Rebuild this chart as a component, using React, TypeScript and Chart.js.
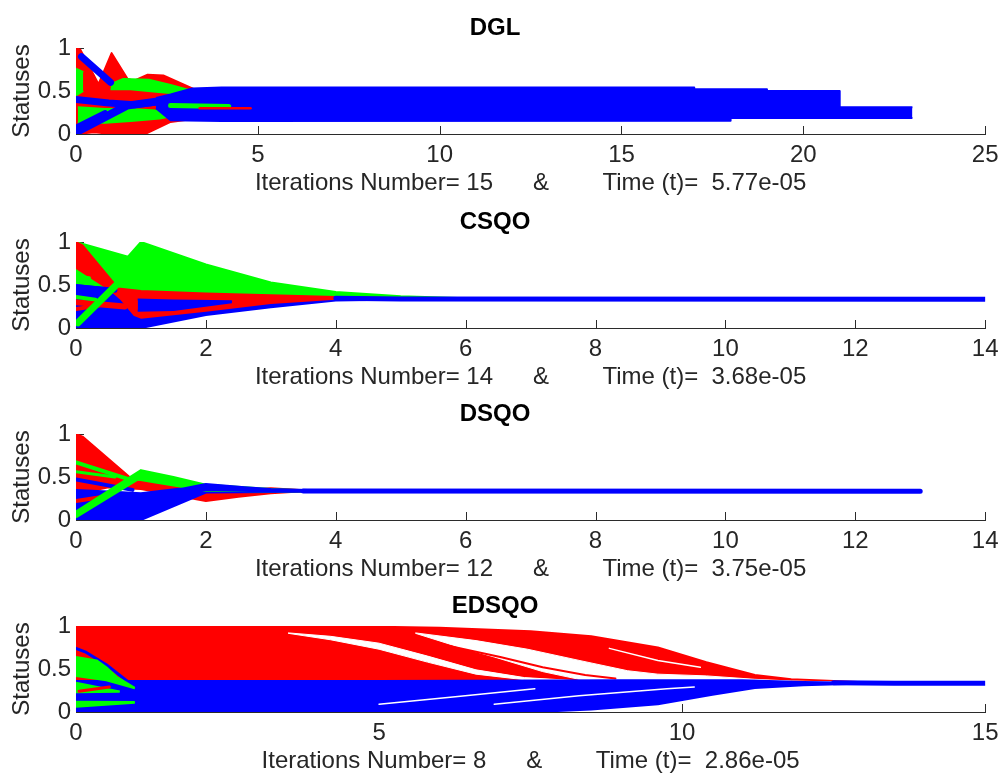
import React, { useEffect, useRef } from "react";
import { Chart, registerables } from "chart.js";
Chart.register(...registerables);

type Pt = [number, number];

// ---------------- DGL (x: 0..25) ----------------
const dglXTicks = { max: 25, step: 5 };
const dglRedTop: Pt[] = [[0, 1.0], [0.12, 0.98], [0.62, 0.58], [0.98, 0.94], [1.42, 0.64], [1.6, 0.62], [1.97, 0.69], [2.4, 0.68], [3.2, 0.53], [3.6, 0.45]];
const dglRedBottom: Pt[] = [[0, 0], [0.5, 0.02], [1, 0], [1.9, 0], [2.6, 0.14], [3.3, 0.18], [3.6, 0.2]];
const dglGreenEdgeTop: Pt[] = [[0, 0.76], [0.2, 0.72]];
const dglGreenEdgeBottom: Pt[] = [[0, 0.45], [0.2, 0.5]];
const dglGreenLowTop: Pt[] = [[0.05, 0.31], [0.8, 0.29], [1.5, 0.29], [2.3, 0.27], [3.0, 0.29]];
const dglGreenLowBottom: Pt[] = [[0.05, 0.13], [0.8, 0.13], [1.5, 0.15], [2.3, 0.18], [3.0, 0.24]];
const dglGreenHighTop: Pt[] = [[0.95, 0.58], [1.3, 0.64], [2.0, 0.63], [2.6, 0.57], [3.3, 0.49]];
const dglGreenHighBottom: Pt[] = [[0.95, 0.52], [1.5, 0.52], [2.2, 0.49], [3.3, 0.45]];
const dglBlueRise: Pt[] = [[0, 0.02], [1.4, 0.33], [2.6, 0.4]];
const dglBlueMid: Pt[] = [[0, 0.4], [0.9, 0.36], [1.6, 0.34], [2.4, 0.38]];
const dglBlueLow: Pt[] = [[0, 0.08], [0.8, 0.25]];
const dglBlueDiag: Pt[] = [[0.15, 0.9], [0.95, 0.6]];
const dglBlueTop: Pt[] = [[2.2, 0.42], [2.6, 0.46], [3.2, 0.53], [4, 0.54], [17, 0.54], [17, 0.52], [19, 0.52], [19, 0.5], [21, 0.5], [21, 0.31], [23, 0.31]];
const dglBlueBottom: Pt[] = [[2.2, 0.3], [2.6, 0.16], [4, 0.15], [18, 0.155], [18, 0.185], [23, 0.185]];
const dglGreenStreak: Pt[] = [[2.6, 0.33], [4.2, 0.32]];
const dglRedStreak: Pt[] = [[3.4, 0.3], [4.8, 0.3]];

// ---------------- CSQO (x: 0..14) ----------------
const csqoXTicks = { max: 14, step: 2 };
const csqoGreenTop: Pt[] = [[0, 1.0], [0.8, 0.83], [1, 1.0], [2, 0.74], [3, 0.53], [4, 0.42], [5, 0.37], [6, 0.345]];
const csqoGreenBottom: Pt[] = [[0, 0.05], [1, 0.38], [2, 0.38], [4, 0.36], [6, 0.335]];
const csqoBlueTop: Pt[] = [[0, 0.5], [0.6, 0.45], [1, 0.42], [2, 0.39], [3, 0.37], [4, 0.355], [5, 0.342], [6, 0.337]];
const csqoBlueBottom: Pt[] = [[0, 0], [1, 0], [2, 0.15], [3, 0.24], [4, 0.32], [5, 0.332], [6, 0.334]];
const csqoRedTop: Pt[] = [[0, 1.0], [0.1, 0.96], [0.65, 0.46], [1, 0.43], [2, 0.4], [3, 0.38], [4, 0.36], [5, 0.345]];
const csqoRedBottom: Pt[] = [[0, 0.7], [0.55, 0.43], [0.7, 0.33], [0.9, 0.15], [1, 0.12], [2, 0.2], [3, 0.29], [4, 0.34], [5, 0.34]];
const csqoBlueWedgeTop: Pt[] = [[0.95, 0.33], [1.5, 0.32], [2.4, 0.31]];
const csqoBlueWedgeBottom: Pt[] = [[0.95, 0.2], [1.5, 0.21], [2.4, 0.3]];
const csqoRedLineA: Pt[] = [[0, 0.3], [0.75, 0.25]];
const csqoRedLineB: Pt[] = [[0, 0.22], [0.35, 0.26]];
const csqoBlueLine: Pt[] = [[0, 0.48], [0.6, 0.44]];
const csqoGreenRise: Pt[] = [[0.03, 0.06], [0.62, 0.5]];
const csqoGreenLineA: Pt[] = [[0, 0.36], [0.3, 0.33]];
const csqoGreenLineB: Pt[] = [[0, 0.6], [0.2, 0.58]];
const csqoFinal: Pt[] = [[4, 0.345], [5, 0.337], [14, 0.335]];

// ---------------- DSQO (x: 0..14) ----------------
const dsqoXTicks = { max: 14, step: 2 };
const dsqoRedTop: Pt[] = [[0, 1.0], [0.1, 0.97], [0.9, 0.45], [1, 0.45], [2, 0.35], [2.5, 0.34], [3, 0.37], [3.5, 0.345]];
const dsqoRedBottom: Pt[] = [[0, 0.3], [0.5, 0.38], [1, 0.36], [2, 0.22], [2.5, 0.27], [3, 0.31], [3.5, 0.335]];
const dsqoBlueTop: Pt[] = [[0, 0.35], [0.5, 0.33], [1, 0.31], [2, 0.4], [3, 0.35], [4, 0.337], [13, 0.335]];
const dsqoBlueBottom: Pt[] = [[0, 0], [1, 0], [2, 0.32], [3, 0.325], [4, 0.33], [13, 0.332]];
const dsqoGreenTop: Pt[] = [[0, 0.1], [1, 0.58], [1.5, 0.5], [2, 0.41], [3, 0.36], [3.5, 0.345]];
const dsqoGreenBottom: Pt[] = [[0, 0.03], [0.95, 0.47], [1.2, 0.44], [2, 0.34], [3, 0.335], [3.5, 0.335]];
const dsqoBluePeakTop: Pt[] = [[1.4, 0.33], [2, 0.42], [2.6, 0.38], [3, 0.36], [4, 0.34]];
const dsqoBluePeakBottom: Pt[] = [[1.4, 0.26], [2, 0.35], [3, 0.33], [4, 0.332]];
const dsqoGreenLineA: Pt[] = [[0, 0.67], [0.87, 0.46]];
const dsqoGreenLineB: Pt[] = [[0, 0.56], [0.6, 0.5]];
const dsqoBlueLine: Pt[] = [[0, 0.47], [0.87, 0.35]];
const dsqoRedLine: Pt[] = [[0, 0.22], [0.5, 0.28]];
const dsqoFinal: Pt[] = [[3.5, 0.337], [13, 0.335]];

// ---------------- EDSQO (x: 0..15) ----------------
const edsqoXTicks = { max: 15, step: 5 };
const edsqoRedTop: Pt[] = [[0, 1.0], [4.2, 1.0], [6, 0.98], [7.5, 0.94], [8.5, 0.88], [9.6, 0.75], [10.4, 0.58], [11.2, 0.43], [11.8, 0.38], [12.9, 0.35], [13.5, 0.34]];
const edsqoRedBottom: Pt[] = [[0, 0.35], [12, 0.345], [13.5, 0.335]];
const edsqoGap1Top: Pt[] = [[3.5, 0.92], [4.2, 0.88], [5.0, 0.8], [5.8, 0.65], [6.6, 0.49], [7.4, 0.4], [8.3, 0.362]];
const edsqoGap1Bottom: Pt[] = [[3.5, 0.915], [4.2, 0.84], [5.0, 0.73], [5.8, 0.58], [6.6, 0.44], [7.4, 0.375], [8.3, 0.356]];
const edsqoGap2Top: Pt[] = [[5.6, 0.92], [6.6, 0.83], [7.45, 0.73], [8.3, 0.6], [9.1, 0.48], [9.6, 0.44], [10.4, 0.42], [11.2, 0.38], [11.8, 0.36], [12.5, 0.35]];
const edsqoGap2Bottom: Pt[] = [[5.6, 0.915], [6.3, 0.76], [6.9, 0.64], [7.7, 0.47], [8.3, 0.38], [9, 0.37], [10, 0.37], [11, 0.365], [12.5, 0.35]];
const edsqoRedInGap: Pt[] = [[6.14, 0.77], [7.0, 0.64], [7.7, 0.52], [8.4, 0.43], [8.9, 0.39]];
const edsqoGapInRed: Pt[] = [[8.8, 0.74], [9.6, 0.6], [10.3, 0.52]];
const edsqoBlueTop: Pt[] = [[0, 0.36], [5, 0.36], [9, 0.37], [11, 0.37], [12, 0.35], [13, 0.34]];
const edsqoBlueBottom: Pt[] = [[0, 0], [7.6, 0], [8.5, 0.03], [9.6, 0.09], [10.5, 0.2], [11.2, 0.28], [12, 0.31], [13, 0.33]];
const edsqoBlueGapA: Pt[] = [[5.0, 0.09], [6.3, 0.18], [7.57, 0.27]];
const edsqoBlueGapB: Pt[] = [[6.9, 0.09], [8.3, 0.19], [9.75, 0.27], [10.2, 0.29]];
const edsqoBlueWisp: Pt[] = [[0, 0.74], [0.15, 0.7], [0.5, 0.55], [0.9, 0.33]];
const edsqoGreenATop: Pt[] = [[0, 0.64], [0.34, 0.6], [0.5, 0.52], [0.67, 0.41], [0.97, 0.28]];
const edsqoGreenABottom: Pt[] = [[0, 0.42], [0.5, 0.37], [0.97, 0.275]];
const edsqoGreenBTop: Pt[] = [[0, 0.34], [0.72, 0.24]];
const edsqoGreenBBottom: Pt[] = [[0, 0.23], [0.72, 0.235]];
const edsqoRedInGreen: Pt[] = [[0.05, 0.24], [0.55, 0.29]];
const edsqoGreenCTop: Pt[] = [[0, 0.12], [0.97, 0.115]];
const edsqoGreenCBottom: Pt[] = [[0, 0.06], [0.97, 0.108]];
const edsqoFinal: Pt[] = [[12.5, 0.34], [13.5, 0.335], [15, 0.333]];

// ---------------- texts ----------------
const yTicks = { min: 0, max: 1, step: 0.5 };
const yTitle = "Statuses";
const titles = ["DGL", "CSQO", "DSQO", "EDSQO"];
const xTitles = [
  "Iterations Number= 15      &        Time (t)=  5.77e-05",
  "Iterations Number= 14      &        Time (t)=  3.68e-05",
  "Iterations Number= 12      &        Time (t)=  3.75e-05",
  "Iterations Number= 8      &        Time (t)=  2.86e-05",
];

// ---------------- styles ----------------
const RED = "#ff0000";
const GREEN = "#00ff00";
const BLUE = "#0000ff";
const WHITE = "#ffffff";
const TEXT = "#262626";
const AXIS = "#2b2b2b";
const FONT = "'Liberation Sans', Arial, Helvetica, sans-serif";

type Layer =
  | { kind: "band"; color: string; top: Pt[]; bottom: Pt[]; edge?: number }
  | { kind: "line"; color: string; pts: Pt[]; width: number };

const band = (color: string, top: Pt[], bottom: Pt[], edge = 2): Layer => ({ kind: "band", color, top, bottom, edge });
const line = (color: string, pts: Pt[], width: number): Layer => ({ kind: "line", color, pts, width });

const dglLayers: Layer[] = [
  band(RED, dglRedTop, dglRedBottom),
  band(GREEN, dglGreenEdgeTop, dglGreenEdgeBottom),
  band(GREEN, dglGreenLowTop, dglGreenLowBottom),
  band(GREEN, dglGreenHighTop, dglGreenHighBottom),
  line(BLUE, dglBlueRise, 8),
  line(BLUE, dglBlueMid, 7),
  line(BLUE, dglBlueLow, 5),
  line(BLUE, dglBlueDiag, 7),
  band(BLUE, dglBlueTop, dglBlueBottom),
  line(GREEN, dglGreenStreak, 5),
  line(RED, dglRedStreak, 2.5),
];

const csqoLayers: Layer[] = [
  band(GREEN, csqoGreenTop, csqoGreenBottom),
  band(BLUE, csqoBlueTop, csqoBlueBottom),
  band(RED, csqoRedTop, csqoRedBottom),
  band(BLUE, csqoBlueWedgeTop, csqoBlueWedgeBottom),
  line(RED, csqoRedLineA, 6),
  line(RED, csqoRedLineB, 4),
  line(BLUE, csqoBlueLine, 5),
  line(GREEN, csqoGreenLineA, 4),
  line(GREEN, csqoGreenLineB, 4),
  line(GREEN, csqoGreenRise, 7),
  line(BLUE, csqoFinal, 5),
];

const dsqoLayers: Layer[] = [
  band(RED, dsqoRedTop, dsqoRedBottom),
  band(BLUE, dsqoBlueTop, dsqoBlueBottom),
  line(GREEN, dsqoGreenLineA, 4),
  line(GREEN, dsqoGreenLineB, 3),
  line(BLUE, dsqoBlueLine, 4),
  line(RED, dsqoRedLine, 4),
  band(GREEN, dsqoGreenTop, dsqoGreenBottom),
  band(BLUE, dsqoBluePeakTop, dsqoBluePeakBottom),
  line(BLUE, dsqoFinal, 5),
];

const edsqoLayers: Layer[] = [
  band(RED, edsqoRedTop, edsqoRedBottom),
  band(WHITE, edsqoGap1Top, edsqoGap1Bottom, 1),
  band(WHITE, edsqoGap2Top, edsqoGap2Bottom, 1),
  line(RED, edsqoRedInGap, 2),
  line(WHITE, edsqoGapInRed, 1.5),
  band(BLUE, edsqoBlueTop, edsqoBlueBottom),
  line(WHITE, edsqoBlueGapA, 1.5),
  line(WHITE, edsqoBlueGapB, 1.5),
  line(BLUE, edsqoBlueWisp, 3),
  band(GREEN, edsqoGreenATop, edsqoGreenABottom),
  band(GREEN, edsqoGreenBTop, edsqoGreenBBottom),
  line(RED, edsqoRedInGreen, 3),
  band(GREEN, edsqoGreenCTop, edsqoGreenCBottom),
  line(BLUE, edsqoFinal, 5),
];

type PanelCfg = { title: string; xTitle: string; xMax: number; xStep: number; layers: Layer[] };

const panels: PanelCfg[] = [
  { title: titles[0], xTitle: xTitles[0], xMax: dglXTicks.max, xStep: dglXTicks.step, layers: dglLayers },
  { title: titles[1], xTitle: xTitles[1], xMax: csqoXTicks.max, xStep: csqoXTicks.step, layers: csqoLayers },
  { title: titles[2], xTitle: xTitles[2], xMax: dsqoXTicks.max, xStep: dsqoXTicks.step, layers: dsqoLayers },
  { title: titles[3], xTitle: xTitles[3], xMax: edsqoXTicks.max, xStep: edsqoXTicks.step, layers: edsqoLayers },
];

function mk(pts: Pt[], color: string, width: number, fill: any, round: boolean) {
  return {
    data: pts.map(([x, y]) => ({ x, y })),
    borderColor: color,
    backgroundColor: color,
    borderWidth: width,
    fill,
    pointRadius: 0,
    tension: 0,
    borderJoinStyle: "round",
    borderCapStyle: round ? "round" : "butt",
  };
}

function buildDatasets(layers: Layer[]) {
  const ds: any[] = [];
  for (const l of layers) {
    if (l.kind === "band") {
      ds.push(mk(l.bottom, l.color, l.edge ?? 2, false, false));
      ds.push(mk(l.top, l.color, l.edge ?? 2, "-1", false));
    } else {
      ds.push(mk(l.pts, l.color, l.width, false, true));
    }
  }
  const n = ds.length;
  ds.forEach((d, i) => (d.order = n - i));
  return ds;
}

const inwardTicks = {
  id: "inwardTicks",
  beforeDatasetsDraw(chart: any) {
    const { ctx, chartArea, scales } = chart;
    const x = scales.x;
    const y = scales.y;
    ctx.save();
    ctx.strokeStyle = AXIS;
    ctx.lineWidth = 1;
    for (const t of x.ticks) {
      const px = Math.round(x.getPixelForValue(t.value)) + 0.5;
      ctx.beginPath();
      ctx.moveTo(px, chartArea.bottom);
      ctx.lineTo(px, chartArea.bottom - 8);
      ctx.stroke();
    }
    for (const t of y.ticks) {
      const py = Math.round(y.getPixelForValue(t.value)) + 0.5;
      ctx.beginPath();
      ctx.moveTo(chartArea.left, py);
      ctx.lineTo(chartArea.left + 8, py);
      ctx.stroke();
    }
    ctx.restore();
  },
};

const W = 1005;
const H = 194;
const TOPS = [4, 198, 390, 582];

function Panel({ cfg, top }: { cfg: PanelCfg; top: number }) {
  const ref = useRef<HTMLCanvasElement | null>(null);
  useEffect(() => {
    if (!ref.current) return;
    const chart = new Chart(ref.current, {
      type: "line",
      data: { datasets: buildDatasets(cfg.layers) },
      options: {
        responsive: false,
        animation: false,
        devicePixelRatio: 1,
        events: [],
        layout: { padding: { left: 0, right: 15, top: 0, bottom: 0 } },
        plugins: {
          legend: { display: false },
          tooltip: { enabled: false },
          filler: { propagate: false },
          title: {
            display: true,
            text: cfg.title,
            color: "#000000",
            font: { family: FONT, size: 24, weight: "bold", lineHeight: 1.2 },
            padding: { top: 9.6, bottom: 5.6 },
          },
        },
        scales: {
          x: {
            type: "linear",
            min: 0,
            max: cfg.xMax,
            afterFit: (s: any) => {
              s.height = 64;
            },
            ticks: {
              stepSize: cfg.xStep,
              color: TEXT,
              font: { family: FONT, size: 24 },
              padding: 6.5,
              maxRotation: 0,
              autoSkip: false,
              callback: (v: any) => String(Number(v)),
            },
            grid: { display: false, drawTicks: false },
            border: { display: true, color: AXIS, width: 1 },
            title: {
              display: true,
              text: cfg.xTitle,
              color: TEXT,
              font: { family: FONT, size: 24, lineHeight: 1.2 },
              padding: { top: 0, bottom: 0 },
            },
          },
          y: {
            type: "linear",
            min: yTicks.min,
            max: yTicks.max,
            afterFit: (s: any) => {
              s.width = 76;
            },
            ticks: {
              stepSize: yTicks.step,
              color: TEXT,
              font: { family: FONT, size: 24 },
              padding: 5,
              autoSkip: false,
              callback: (v: any) => String(Number(v)),
            },
            grid: { display: false, drawTicks: false },
            border: { display: true, color: AXIS, width: 1 },
            title: {
              display: true,
              text: yTitle,
              color: TEXT,
              font: { family: FONT, size: 24, lineHeight: 1.2 },
              padding: { top: 8, bottom: 0 },
            },
          },
        },
      } as any,
      plugins: [inwardTicks],
    });
    return () => chart.destroy();
  }, [cfg]);
  return (
    <canvas
      ref={ref}
      width={W}
      height={H}
      style={{ position: "absolute", left: 0, top, width: W, height: H }}
    />
  );
}

export default function App() {
  return (
    <div style={{ position: "absolute", left: 0, top: 0, width: W, height: 776, background: "#ffffff", overflow: "hidden" }}>
      {panels.map((p, i) => (
        <Panel key={p.title} cfg={p} top={TOPS[i]} />
      ))}
    </div>
  );
}
